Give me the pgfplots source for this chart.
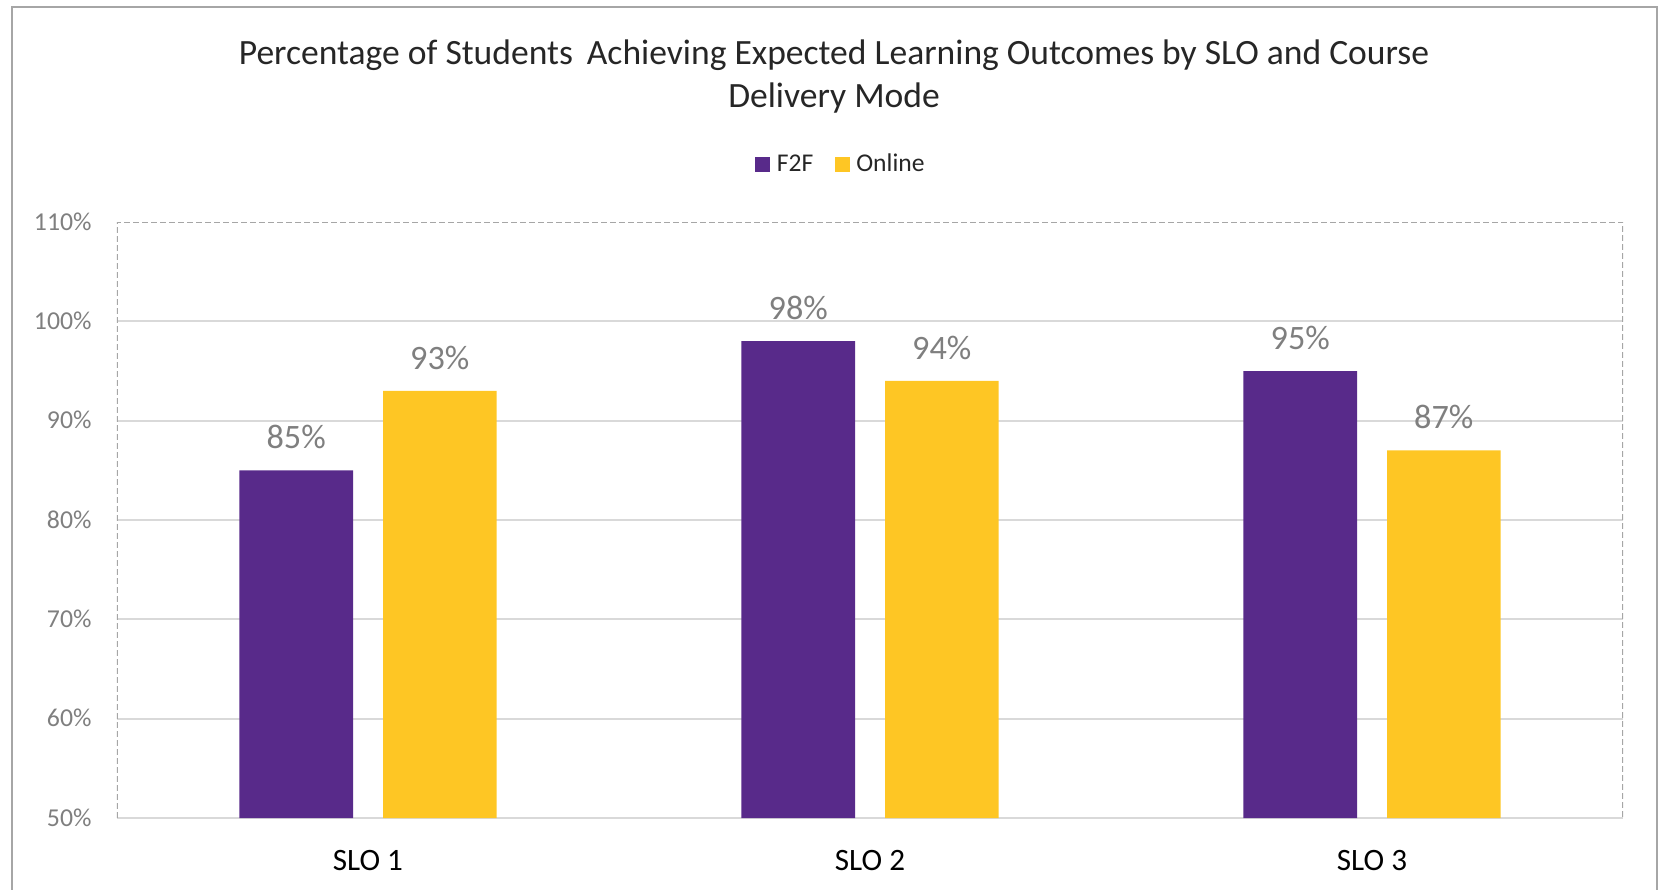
\documentclass[border=0pt]{standalone}
\usepackage{pgfplots}
\pgfplotsset{compat=1.18}
\usepackage{fontspec}
\setmainfont{Carlito}
\definecolor{fpurple}{HTML}{582A8A}
\definecolor{oyellow}{HTML}{FEC624}
\definecolor{gridgray}{HTML}{D9D9D9}
\definecolor{framegray}{HTML}{A6A6A6}
\definecolor{labgray}{HTML}{7F7F7F}
\definecolor{titlegray}{HTML}{262626}
\begin{document}
\begin{tikzpicture}
\useasboundingbox (-52.65bp,-32.4bp) rectangle (697.95bp,368.1bp);
\draw[framegray, line width=0.9bp] (-47.25bp,-40bp) -- (-47.25bp,364.95bp) -- (693bp,364.95bp) -- (693bp,-40bp);
\node[anchor=base, inner sep=0pt, font=\fontsize{16bp}{19bp}\selectfont, text=titlegray] at (322.65bp,339.1bp) {Percentage of Students\, Achieving Expected Learning Outcomes by SLO and Course};
\node[anchor=base, inner sep=0pt, font=\fontsize{16bp}{19bp}\selectfont, text=titlegray] at (322.65bp,319.8bp) {Delivery Mode};
\begin{axis}[
  at={(0,0)}, anchor=south west,
  scale only axis, width=677.7bp, height=268.2bp,
  ybar=13.5bp, bar width=51.1bp,
  xmin=-0.5, xmax=2.5, ymin=50, ymax=110,
  xtick={0,1,2}, xticklabels={SLO 1,SLO 2,SLO 3},
  ytick={50,60,70,80,90,100},
  yticklabels={50\%,60\%,70\%,80\%,90\%,100\%},
  extra y ticks={110}, extra y tick labels={110\%},
  extra y tick style={grid=none},
  ymajorgrids, major grid style={gridgray, line width=0.9bp},
  major tick length=0pt,
  axis line style={draw=none},
  xticklabel style={anchor=base, inner sep=0pt, yshift=-23.4bp, font=\fontsize{14bp}{16bp}\selectfont, text=black},
  yticklabel style={anchor=base east, inner sep=0pt, xshift=-11.25bp, yshift=-3.6bp, font=\fontsize{11.6bp}{13bp}\selectfont, text=labgray},
  /pgf/number format/assume math mode=true,
  nodes near coords={\pgfmathprintnumber{\pgfplotspointmeta}\%},
  every node near coord/.append style={anchor=base, inner sep=0pt, yshift=9.8bp, font=\fontsize{15.4bp}{17bp}\selectfont, text=labgray},
  legend columns=2,
  legend style={at={(rel axis cs:0.48,1.0965)}, anchor=center, draw=none, fill=none,
    font=\fontsize{11.5bp}{13bp}\selectfont, text=titlegray,
    nodes={inner sep=0pt, anchor=west}, column sep=3bp,
    /tikz/every even column/.append style={column sep=9.5bp}},
  legend image code/.code={\fill[#1] (0bp,-3.4bp) rectangle (6.8bp,3.4bp);},
  clip=true,
]
\addplot[fill=fpurple, draw=none] coordinates {(0,85) (1,98) (2,95)};
\addplot[fill=oyellow, draw=none] coordinates {(0,93) (1,94) (2,87)};
\legend{F2F,Online}
\draw[framegray, line width=0.9bp, dash pattern=on 2.7bp off 1.35bp] (rel axis cs:0,0) -- (rel axis cs:0,1) -- (rel axis cs:1,1) -- (rel axis cs:1,0);
\end{axis}
\end{tikzpicture}
\end{document}
